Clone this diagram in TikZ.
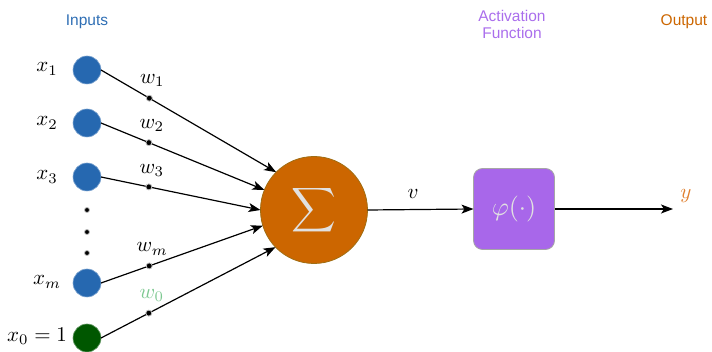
\documentclass[tikz,border=0pt]{standalone}
\usepackage{graphicx}
\usepackage{fontspec}
\setsansfont{Liberation Sans}
\usetikzlibrary{arrows.meta,calc}
\definecolor{inblue}{RGB}{38,104,176}
\definecolor{biasgreen}{RGB}{0,87,0}
\definecolor{sumorange}{RGB}{204,102,0}
\definecolor{sumedge}{RGB}{160,110,20}
\definecolor{actpurple}{RGB}{168,103,234}
\definecolor{lightglyph}{RGB}{225,225,225}
\definecolor{wzero}{RGB}{125,200,145}
\definecolor{youtcol}{RGB}{224,128,48}
\definecolor{titleblue}{RGB}{46,110,180}
\definecolor{titlepurple}{RGB}{170,110,236}
\definecolor{titleorange}{RGB}{204,102,0}
% enlarged math for the labels
\newcommand{\bigmath}[1]{\scalebox{2.1}{$#1$}}
\begin{document}
\begin{tikzpicture}[x=1pt,y=-1pt,
  inp/.style={circle,fill=inblue,draw=inblue!60!white,line width=0.6pt,minimum size=28pt,inner sep=0pt,outer sep=0pt},
  bias/.style={inp,fill=biasgreen,draw=biasgreen!60!white},
  vdot/.style={circle,fill=black,draw=black!25,line width=0.8pt,minimum size=5pt,inner sep=0pt},
  wdot/.style={circle,fill=black,draw=black!25,line width=0.8pt,minimum size=6pt,inner sep=0pt},
  wlab/.style={inner sep=0pt},
  xlab/.style={inner sep=0pt},
  sumnode/.style={circle,fill=sumorange,draw=sumedge,line width=0.8pt,minimum size=107pt,inner sep=0pt,outer sep=0pt,text=lightglyph},
  actbox/.style={rectangle,rounded corners=9pt,fill=actpurple,draw=black!35,line width=0.8pt,minimum size=81pt,inner sep=0pt,outer sep=0pt,text=lightglyph},
  conn/.style={line width=1.2pt,-{Stealth[length=12pt,width=9pt,inset=3pt]}},
  title/.style={font=\sffamily\fontsize{15.5}{18}\selectfont,align=center,inner sep=0pt}
]
\useasboundingbox (0,0) rectangle (712,352);

% column titles
\node[title,text=titleblue] (tin) at (87,22) {Inputs};
\node[title,text=titlepurple] (tact) at (512,24) {Activation\\[-1pt]Function};
\node[title,text=titleorange] (tout) at (684,22) {Output};

% input neurons
\node[inp] (x1) at (87,70) {};
\node[inp] (x2) at (87,123) {};
\node[inp] (x3) at (87,177) {};
\node[inp] (xm) at (87,283) {};
\node[bias] (x0) at (87,338) {};

% vertical ellipsis
\node[vdot] (e1) at (87,210) {};
\node[vdot] (e2) at (87,232) {};
\node[vdot] (e3) at (87,253) {};

% input labels
\node[xlab] (lx1) at (47,69) {\bigmath{x_1}};
\node[xlab] (lx2) at (47,123) {\bigmath{x_2}};
\node[xlab] (lx3) at (47,177) {\bigmath{x_3}};
\node[xlab] (lxm) at (47,282) {\bigmath{x_m}};
\node[xlab] (lx0) at (37,336) {\bigmath{x_0=1}};

% summation and activation
\node[sumnode] (sum) at (314,210) {\scalebox{3.1}{$\displaystyle\sum$}};
\node[actbox] (act) at (514,209) {\scalebox{2.6}{$\varphi(\cdot)$}};
\coordinate (yend) at (673,209);

% weighted connections
\draw[conn] (x1.east) -- (sum.135) node[wdot,pos=0.276] (d1) {};
\draw[conn] (x2.east) -- (sum.158) node[wdot,pos=0.293] (d2) {};
\draw[conn] (x3.east) -- (sum.180) node[wdot,pos=0.30] (d3) {};
\draw[conn] (xm.east) -- (sum.197) node[wdot,pos=0.298] (dm) {};
\draw[conn] (x0.east) -- (sum.224) node[wdot,pos=0.274] (d0) {};

% weight labels
\node[wlab] (w1) at ($(d1)+(3,-18)$) {\bigmath{w_1}};
\node[wlab] (w2) at ($(d2)+(3,-17)$) {\bigmath{w_2}};
\node[wlab] (w3) at ($(d3)+(3,-16)$) {\bigmath{w_3}};
\node[wlab] (wm) at ($(dm)+(3,-17)$) {\bigmath{w_m}};
\node[wlab,text=wzero] (w0) at ($(d0)+(3,-18)$) {\bigmath{w_0}};

% output path
\draw[conn] (sum.east) -- (act.west);
\node[wlab] (vlab) at (413,194) {\bigmath{v}};
\draw[conn] (act.east) -- (yend);
\node[wlab,text=youtcol] (ylab) at (686,196) {\bigmath{y}};
\end{tikzpicture}
\end{document}
